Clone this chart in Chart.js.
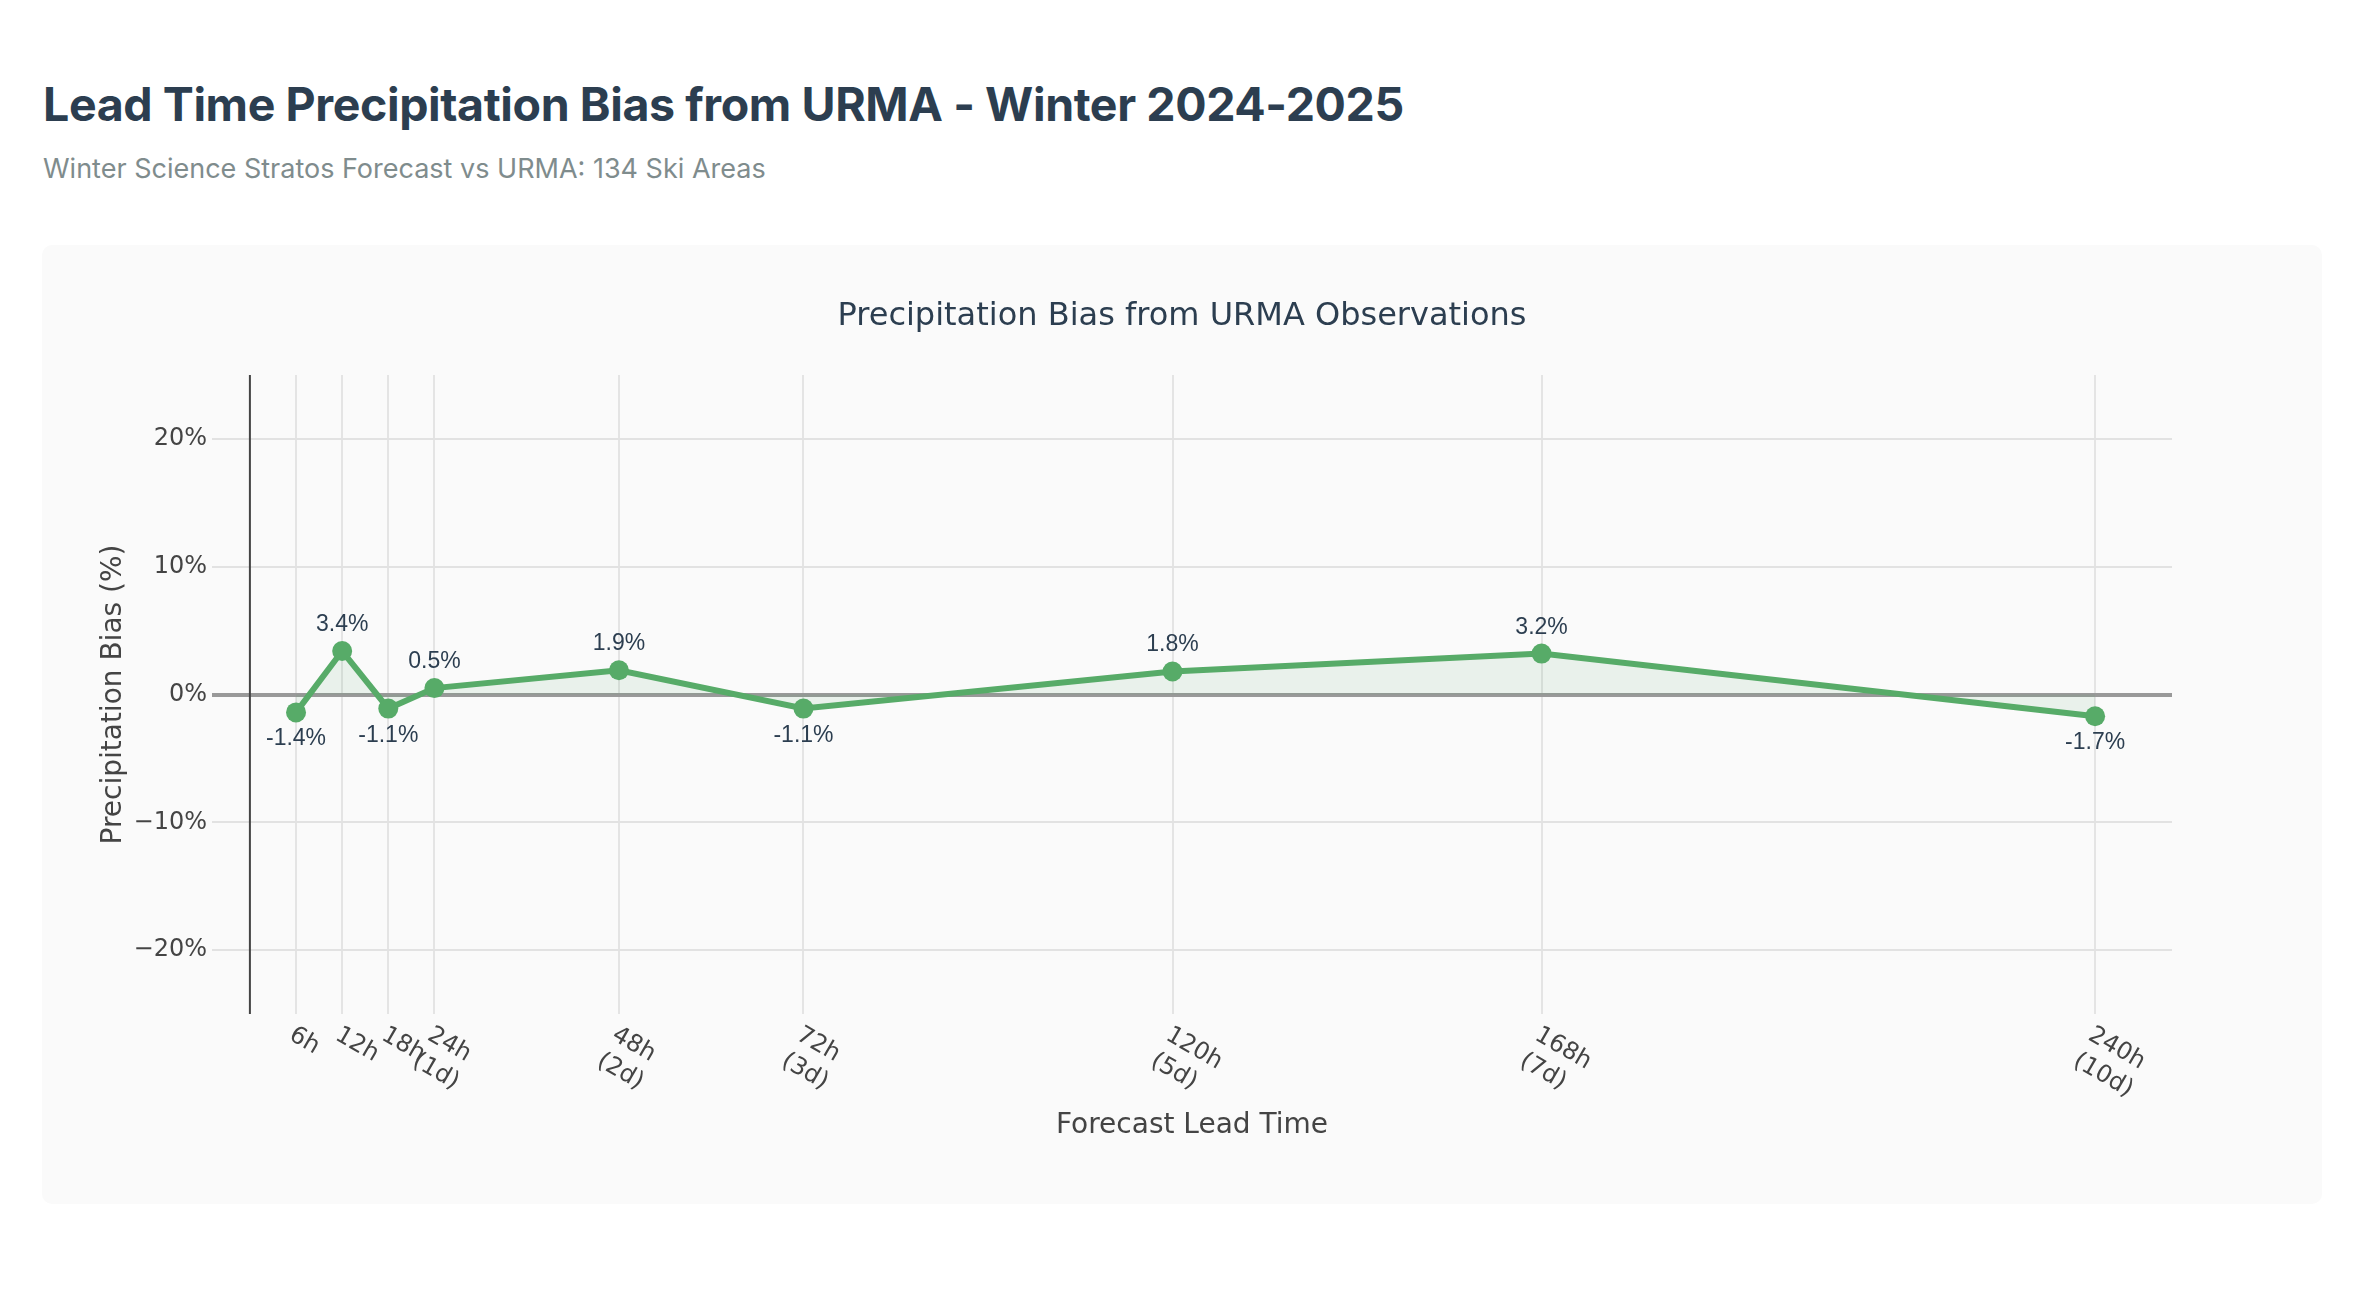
<!DOCTYPE html>
<html>
<head>
<meta charset="utf-8">
<script src="https://cdn.jsdelivr.net/npm/chart.js@4.4.1/dist/chart.umd.min.js"></script>
<style>
  html, body { margin: 0; padding: 0; background: #ffffff; }
  body { width: 2362px; height: 1290px; position: relative; overflow: hidden; }
  .page-title {
    position: absolute; left: 43px; top: 81px; margin: 0;
    font-family: Inter, "Liberation Sans", sans-serif; font-weight: 700;
    font-size: 46.5px; line-height: 1; color: #2c3e50; letter-spacing: -0.4px;
  }
  .page-sub {
    position: absolute; left: 43px; top: 155px; margin: 0;
    font-family: Inter, "Liberation Sans", sans-serif; font-weight: 400;
    font-size: 27px; line-height: 1; color: #7f8c8d;
  }
  .card {
    position: absolute; left: 42px; top: 245px; width: 2280px; height: 959px;
    background: #fafafa; border-radius: 10px;
  }
</style>
</head>
<body>
<h1 class="page-title">Lead Time Precipitation Bias from URMA - Winter 2024-2025</h1>
<p class="page-sub">Winter Science Stratos Forecast vs URMA: 134 Ski Areas</p>
<div class="card">
  <canvas id="biasChart"></canvas>
</div>
<script>
const leadHours = [6, 12, 18, 24, 48, 72, 120, 168, 240];
const tickLabels = ["6h", "12h", "18h", "24h\n(1d)", "48h\n(2d)", "72h\n(3d)", "120h\n(5d)", "168h\n(7d)", "240h\n(10d)"];
const biasValues = [-1.4, 3.4, -1.1, 0.5, 1.9, -1.1, 1.8, 3.2, -1.7];
const yTickValues = [-20, -10, 0, 10, 20];

const lineGreen = "#57ab68";
const axisFont = "DejaVu Sans, Verdana, sans-serif";

// plotly-style extras: title, axis titles, rotated tick labels, value labels, x=0 line
const decorations = {
  id: "decorations",
  beforeDatasetsDraw(chart) {
    const { ctx, chartArea, scales } = chart;
    const x0 = scales.x.getPixelForValue(0);
    ctx.save();
    ctx.strokeStyle = "#444444";
    ctx.lineWidth = 2;
    ctx.beginPath();
    ctx.moveTo(x0, chartArea.top);
    ctx.lineTo(x0, chartArea.bottom);
    ctx.stroke();
    ctx.restore();
  },
  afterDatasetsDraw(chart) {
    const { ctx } = chart;
    const meta = chart.getDatasetMeta(0);
    ctx.save();
    ctx.font = "23px 'Liberation Sans', Arial, sans-serif";
    ctx.fillStyle = "#2c3e50";
    ctx.textAlign = "center";
    ctx.textBaseline = "alphabetic";
    meta.data.forEach((pt, i) => {
      const v = biasValues[i];
      const txt = v.toFixed(1) + "%";
      const y = v >= 0 ? pt.y - 20 : pt.y + 33;
      ctx.fillText(txt, pt.x, y);
    });
    ctx.restore();
  },
  afterDraw(chart) {
    const { ctx, chartArea, scales, width } = chart;
    ctx.save();
    // chart title
    ctx.font = "32px " + axisFont;
    ctx.fillStyle = "#2c3e50";
    ctx.textAlign = "center";
    ctx.textBaseline = "alphabetic";
    ctx.fillText("Precipitation Bias from URMA Observations", width / 2, 80);

    // rotated x tick labels
    ctx.font = "24px " + axisFont;
    ctx.fillStyle = "#444444";
    ctx.textAlign = "left";
    ctx.textBaseline = "top";
    leadHours.forEach((h, i) => {
      const px = scales.x.getPixelForValue(h);
      ctx.save();
      ctx.translate(px + 1, chartArea.bottom + 9);
      ctx.rotate(Math.PI / 6);
      tickLabels[i].split("\n").forEach((line, j) => {
        ctx.fillText(line, 0, j * 30);
      });
      ctx.restore();
    });

    // axis titles
    ctx.font = "28px " + axisFont;
    ctx.textAlign = "center";
    ctx.textBaseline = "alphabetic";
    ctx.fillText("Forecast Lead Time", (chartArea.left + chartArea.right) / 2, 888);

    ctx.save();
    ctx.translate(72, (chartArea.top + chartArea.bottom) / 2);
    ctx.rotate(-Math.PI / 2);
    ctx.textBaseline = "middle";
    ctx.fillText("Precipitation Bias (%)", 0, 0);
    ctx.restore();

    ctx.restore();
  }
};

const canvas = document.getElementById("biasChart");
const ctx = canvas.getContext("2d");

new Chart(ctx, {
  type: "line",
  data: {
    datasets: [
      {
        label: "Precipitation Bias",
        data: leadHours.map((h, i) => ({ x: h, y: biasValues[i] })),
        borderColor: lineGreen,
        backgroundColor: "rgba(87,171,104,0.1)",
        borderWidth: 6,
        fill: "origin",
        tension: 0,
        pointRadius: 10,
        pointHoverRadius: 10,
        pointBackgroundColor: lineGreen,
        pointBorderColor: lineGreen,
        pointBorderWidth: 0
      }
    ]
  },
  options: {
    responsive: true,
    maintainAspectRatio: false,
    animation: false,
    devicePixelRatio: 1,
    layout: { padding: { left: 0, top: 130, right: 150, bottom: 0 } },
    plugins: {
      legend: { display: false },
      title: { display: false },
      tooltip: { enabled: false }
    },
    scales: {
      x: {
        type: "linear",
        min: -4.93,
        max: 250,
        afterBuildTicks(scale) {
          scale.ticks = leadHours.map((v) => ({ value: v }));
        },
        afterFit(scale) {
          scale.height = 190;
        },
        ticks: { display: false },
        border: { display: false },
        grid: { color: "#e4e4e4", lineWidth: 2, drawTicks: false }
      },
      y: {
        min: -25,
        max: 25,
        afterBuildTicks(scale) {
          scale.ticks = yTickValues.map((v) => ({ value: v }));
        },
        afterFit(scale) {
          scale.width = 170;
        },
        border: { display: false },
        grid: {
          drawTicks: false,
          color: (c) => (c.tick && c.tick.value === 0 ? "#999999" : "#e2e2e2"),
          lineWidth: (c) => (c.tick && c.tick.value === 0 ? 4 : 2)
        },
        ticks: {
          padding: 5,
          color: "#444444",
          font: { family: axisFont, size: 24 },
          callback: (v) => (v < 0 ? "\u2212" + Math.abs(v) : v) + "%"
        }
      }
    }
  },
  plugins: [decorations]
});
</script>
</body>
</html>
